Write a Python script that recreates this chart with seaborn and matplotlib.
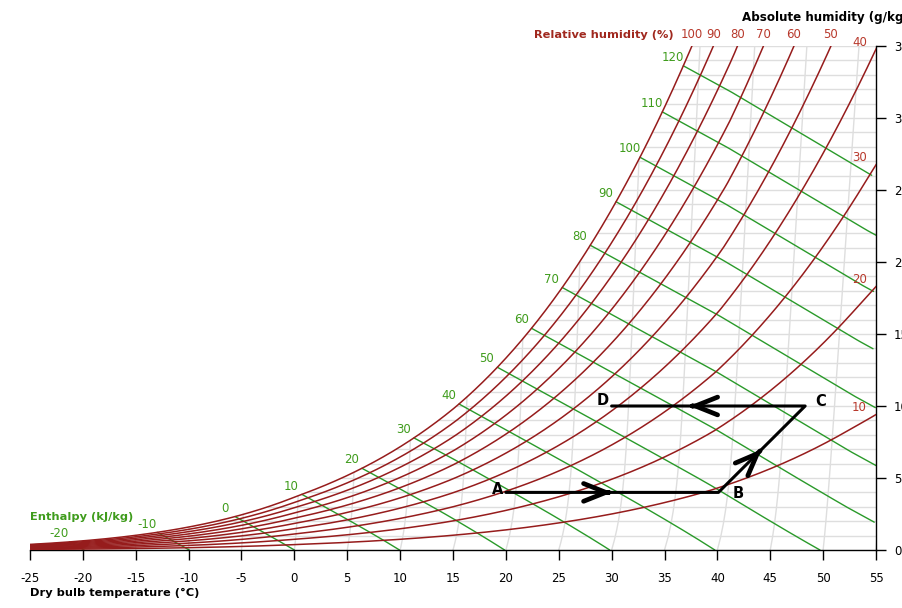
import numpy as np
import pandas as pd
import matplotlib
matplotlib.use("Agg")
import matplotlib.pyplot as plt
import seaborn as sns

# ---- chart definition -------------------------------------------------------
P_ATM = 101.325  # kPa, total pressure

rh_levels = [10, 20, 30, 40, 50, 60, 70, 80, 90, 100]          # %
enthalpy_levels = [-20, -10, 0, 10, 20, 30, 40, 50, 60, 70,
                   80, 90, 100, 110, 120]                        # kJ/kg
temp_ticks = [-25, -20, -15, -10, -5, 0, 5, 10, 15, 20, 25, 30, 35, 40, 45, 50, 55]
humidity_ticks = [0, 5, 10, 15, 20, 25, 30, 35]
isotherm_levels = temp_ticks
humidity_grid = list(range(1, 36))

# extra skew of the moist region of the chart (deg C, by dry bulb temperature)
skew_temp = [-15, 0, 14, 38, 52]
skew_shift = [0.0, 0.5, 1.05, 1.1, 0.0]

# process path (dry bulb position, g/kg)
process_labels = ["A", "B", "C", "D"]
process_temp = [20, 40.1, 48.3, 30]
process_hum = [4, 4, 10, 10]
arrow_fraction = [0.5, 0.5, 0.6]   # where the chevron sits on each leg

T_MIN, T_MAX = -25, 55
W_MAX = 35

RH_COLOR = "#961c1c"
RH_TEXT = "#b8392c"
H_COLOR = "#2a9a2a"
H_TEXT = "#3f9c1c"
GRID_COLOR = "#dedede"


def p_sat(t):
    t = np.asarray(t, float)
    water = 0.61094 * np.exp(17.625 * t / (t + 243.04))
    ice = 0.61115 * np.exp(22.452 * t / (272.55 + t))
    return np.where(t >= 0, water, ice)


def hum_ratio(t, rh):
    """humidity ratio in g/kg"""
    pv = rh / 100.0 * p_sat(t)
    return 622.0 * pv / (P_ATM - pv)


def chart_x(t, w):
    """abscissa: sensible enthalpy / cp of dry air, plus the chart skew"""
    t = np.asarray(t, float)
    w = np.asarray(w, float)
    base = t * (1 + 1.86 * w / 1000.0 / 1.006)
    return base + np.interp(t, skew_temp, skew_shift) * (1 - np.exp(-w / 3.0))


def enthalpy(t, w):
    return 1.006 * t + w / 1000.0 * (2501 + 1.86 * t)


def temp_from_h(h, w):
    return (h - 2.501 * w) / (1.006 + 1.86 * w / 1000.0)


t_grid = np.linspace(-30, 60, 9001)
ws_grid = hum_ratio(t_grid, 100)
h_sat_grid = enthalpy(t_grid, ws_grid)


def sat_point_w(w):
    t = np.interp(w, ws_grid, t_grid)
    return float(chart_x(t, w))


# ---- figure -----------------------------------------------------------------
sns.set_theme(style="white")
plt.rcParams["font.family"] = ["DejaVu Sans"]
plt.rcParams["axes.unicode_minus"] = False

fig = plt.figure(figsize=(9.02, 6.08), dpi=100)
ax = fig.add_axes([30 / 902, 58 / 608, 846 / 902, 504 / 608])

# grid: constant humidity (horizontal) right of the saturation curve
frames = []
for w in humidity_grid:
    x0 = max(sat_point_w(w), T_MIN)
    frames.append(pd.DataFrame({"x": [x0, T_MAX], "w": [w, w], "id": w}))
# grid: isotherms from the axis up to saturation
for i, t in enumerate(isotherm_levels):
    w_top = min(W_MAX, float(hum_ratio(t, 100)))
    ww = np.linspace(0, w_top, 40)
    frames.append(pd.DataFrame({"x": chart_x(np.full_like(ww, t), ww),
                                "w": ww, "id": 100 + i}))
grid_df = pd.concat(frames, ignore_index=True)
sns.lineplot(data=grid_df, x="x", y="w", units="id", estimator=None, sort=False,
             color=GRID_COLOR, lw=1.0, ax=ax, zorder=1)

# enthalpy lines: from saturation down to the axis (or the right edge)
frames = []
h_start = {}
for h in enthalpy_levels:
    t0 = np.interp(h, h_sat_grid, t_grid)
    w0 = float(hum_ratio(t0, 100))
    ww = np.linspace(w0, 0, 200)
    tt = temp_from_h(h, ww)
    xx = chart_x(tt, ww)
    keep = xx <= T_MAX + 0.01
    h_start[h] = (float(xx[0]), w0)
    frames.append(pd.DataFrame({"x": xx[keep], "w": ww[keep], "h": h}))
h_df = pd.concat(frames, ignore_index=True)
sns.lineplot(data=h_df, x="x", y="w", units="h", estimator=None, sort=False,
             color=H_COLOR, lw=1.0, ax=ax, zorder=2)

# relative humidity curves
t_curve = np.linspace(-26, 60, 1721)
frames = []
for rh in rh_levels:
    w = hum_ratio(t_curve, rh)
    keep = w <= W_MAX + 3
    frames.append(pd.DataFrame({"x": chart_x(t_curve[keep], w[keep]),
                                "w": w[keep], "rh": rh}))
rh_df = pd.concat(frames, ignore_index=True)
sns.lineplot(data=rh_df, x="x", y="w", units="rh", estimator=None, sort=False,
             color=RH_COLOR, lw=1.1, ax=ax, zorder=3)

# process path A-B-C-D
path_df = pd.DataFrame({"x": process_temp, "w": process_hum, "id": 0})
sns.lineplot(data=path_df, x="x", y="w", units="id", estimator=None, sort=False,
             color="black", lw=2.2, ax=ax, zorder=6, solid_capstyle="round",
             solid_joinstyle="round")
for i, frac in enumerate(arrow_fraction):
    xa, wa = process_temp[i], process_hum[i]
    xb, wb = process_temp[i + 1], process_hum[i + 1]
    xt, wt = xa + frac * (xb - xa), wa + frac * (wb - wa)
    xs, ws_ = xt - 0.02 * (xb - xa), wt - 0.02 * (wb - wa)
    ax.annotate("", xy=(xt, wt), xytext=(xs, ws_),
                arrowprops=dict(arrowstyle="->,head_length=0.8,head_width=0.32",
                                color="black", lw=3.4, mutation_scale=20,
                                shrinkA=0, shrinkB=0, capstyle="round",
                                joinstyle="round"),
                zorder=7)

label_offsets = {"A": (-2, 2, "right"), "B": (10, -1, "left"),
                 "C": (7, 3, "left"), "D": (-2, 4, "right")}
for lab, x, w in zip(process_labels, process_temp, process_hum):
    dx, dy, ha = label_offsets[lab]
    ax.annotate(lab, xy=(x, w), xytext=(dx, dy), textcoords="offset points",
                ha=ha, va="center", fontsize=10.5, fontweight="bold",
                color="black", zorder=8)

# enthalpy labels along the saturation curve
for h in enthalpy_levels:
    x0, w0 = h_start[h]
    ax.annotate(f"{h}", xy=(x0, w0), xytext=(-7.5, 6), textcoords="offset points",
                ha="center", va="center", fontsize=8.5, color=H_TEXT,
                annotation_clip=False)

# relative humidity labels
for rh in rh_levels:
    sub = rh_df[rh_df.rh == rh]
    x_top = float(np.interp(W_MAX, sub.w, sub.x))
    if x_top <= 52:
        ax.annotate(f"{rh}", xy=(x_top, W_MAX), xytext=(0, 8),
                    textcoords="offset points", ha="center", va="center",
                    fontsize=8.5, color=RH_TEXT, annotation_clip=False)
    else:
        w_edge = float(np.interp(T_MAX, sub.x, sub.w))
        w_edge = min(w_edge, W_MAX)
        ax.annotate(f"{rh}", xy=(T_MAX, w_edge), xytext=(-12, 5),
                    textcoords="offset points", ha="center", va="center",
                    fontsize=8.5, color=RH_TEXT, annotation_clip=False)

# axes styling
ax.set_xlim(T_MIN, T_MAX)
ax.set_ylim(0, W_MAX)
ax.set_xticks(temp_ticks)
ax.set_yticks(humidity_ticks)
ax.set_xlabel("")
ax.set_ylabel("")
ax.yaxis.tick_right()
for side in ("left", "top"):
    ax.spines[side].set_visible(False)
for side in ("bottom", "right"):
    ax.spines[side].set_color("black")
    ax.spines[side].set_linewidth(1.0)
ax.tick_params(axis="x", direction="out", length=7, width=1, pad=9,
               labelsize=8.5, colors="black", bottom=True)
ax.tick_params(axis="y", direction="out", length=7, width=1, pad=6,
               labelsize=8.5, colors="black", right=True, left=False)
ax.grid(False)
ax.set_facecolor("white")

fig.text(30 / 902, 1 - 593 / 608, "Dry bulb temperature (\u00b0C)", ha="left",
         va="center", fontsize=8.2, fontweight="bold", color="black")
fig.text(30 / 902, 1 - 517 / 608, "Enthalpy (kJ/kg)", ha="left", va="center",
         fontsize=8.2, fontweight="bold", color=H_TEXT)
fig.text(534 / 902, 1 - 35 / 608, "Relative humidity (%)", ha="left",
         va="center", fontsize=8.2, fontweight="bold", color="#a0281e")
fig.text(742 / 902, 1 - 17 / 608, "Absolute humidity (g/kg)", ha="left",
         va="center", fontsize=8.6, fontweight="bold", color="black")

fig.savefig("out.png", dpi=100, facecolor="white")
